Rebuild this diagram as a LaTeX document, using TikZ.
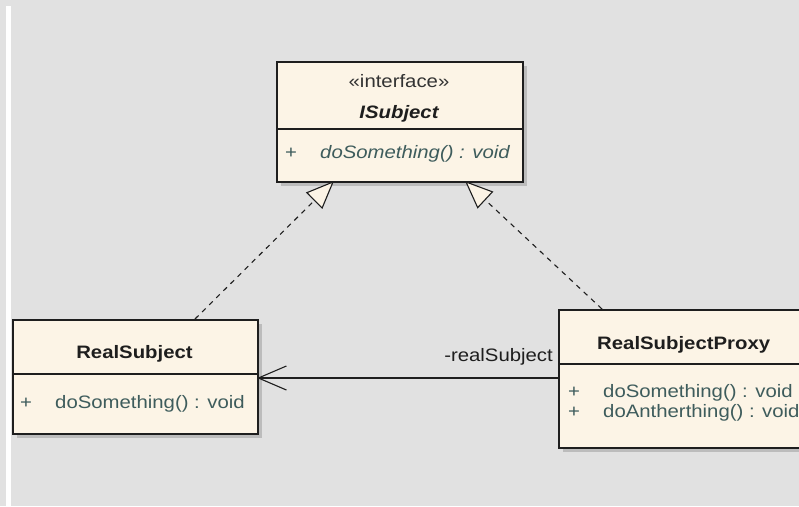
\documentclass[tikz,border=0pt]{standalone}
\usepackage{fontspec}
\setmainfont{Liberation Sans}[FakeStretch=1.13]
\usetikzlibrary{arrows.meta,shadows}
\definecolor{bg}{HTML}{E1E1E1}
\definecolor{boxfill}{HTML}{FCF4E6}
\definecolor{meth}{HTML}{3E5C5C}
\definecolor{ink}{HTML}{1E1E1E}
\begin{document}
\begin{tikzpicture}[x=1pt,y=-1pt,
  umlbox/.style={draw=ink, line width=1.7pt, fill=boxfill, rectangle, inner sep=0pt, anchor=north west,
    drop shadow={shadow xshift=4pt, shadow yshift=-4pt, fill=black!40, opacity=0.5}},
  divider/.style={draw=ink, line width=1.4pt},
  txt/.style={inner sep=0pt, font=\fontsize{18}{21}\selectfont},
  clsname/.style={txt, text=ink, font=\fontsize{18}{21}\selectfont\bfseries},
  stereo/.style={txt, text=black!80},
  methtxt/.style={txt, text=meth, anchor=base west},
  plus/.style={txt, text=meth, anchor=base},
  realize/.style={draw=ink, line width=1.1pt, dash pattern=on 5pt off 5pt,
    -{Triangle[open, fill=boxfill, length=28pt, width=23pt, line width=1.1pt]}},
  assoc/.style={draw=ink, line width=1.1pt, -{Straight Barb[length=28pt, width=24pt, line width=1.1pt]}}
]
\useasboundingbox (0,0) rectangle (799,506);
\fill[bg] (0,0) rectangle (799,506);
\fill[white] (6,6) rectangle (11,506);
\clip (0,0) rectangle (799,506);

% boxes
\node[umlbox, minimum width=246pt, minimum height=120pt] (is) at (276,61) {};
\draw[divider] (is.west |- 0,129) -- (is.east |- 0,129);
\node[umlbox, minimum width=245pt, minimum height=114pt] (rs) at (12,319) {};
\draw[divider] (rs.west |- 0,374) -- (rs.east |- 0,374);
\node[umlbox, minimum width=262pt, minimum height=138pt] (px) at (558,309) {};
\draw[divider] (px.west |- 0,364) -- (px.east |- 0,364);

% ISubject texts
\node[stereo, anchor=base] (isst) at (399,87) {«interface»};
\node[clsname, anchor=base, font=\fontsize{18}{21}\selectfont\bfseries\itshape] (isnm) at (399,118) {ISubject};
\node[plus] (isp) at (291,158) {+};
\node[methtxt, font=\fontsize{18}{21}\selectfont\itshape] (ism) at (320,158) {doSomething() : void};

% RealSubject texts
\node[clsname, anchor=base] (rsnm) at (134.5,358) {RealSubject};
\node[plus] (rsp) at (26,408) {+};
\node[methtxt] (rsm) at (55,408) {doSomething() : void};

% RealSubjectProxy texts
\node[clsname, anchor=base west] (pxnm) at (597,349) {RealSubjectProxy};
\node[plus] (pxp1) at (574,397) {+};
\node[methtxt] (pxm1) at (603,397) {doSomething() : void};
\node[plus] (pxp2) at (574,417) {+};
\node[methtxt] (pxm2) at (603,417) {doAntherthing() : void};

% connector end points
\coordinate (rsTop) at (195,319);
\coordinate (isL) at (334,181);
\coordinate (pxTop) at (602,309);
\coordinate (isR) at (465,181);
\coordinate (pxL) at (558,378);
\coordinate (rsR) at (257,378);

\draw[realize] (rsTop) -- (isL);
\draw[realize] (pxTop) -- (isR);
\draw[assoc] (pxL) -- (rsR);
\node[txt, text=ink, anchor=base east] (lbl) at (553,361) {-realSubject};
\end{tikzpicture}
\end{document}
